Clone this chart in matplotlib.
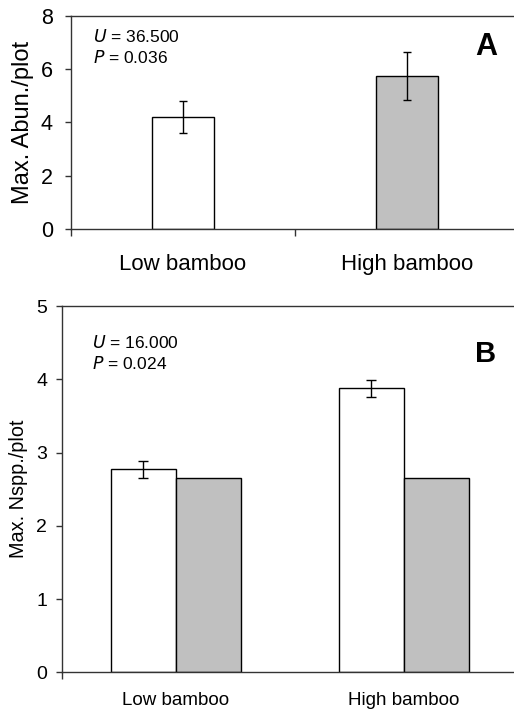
#!/usr/bin/env python3
"""Max. abundance and species richness per plot, low vs high bamboo."""

import matplotlib.pyplot as plt
import numpy as np

plt.rcParams["font.family"] = ["Liberation Sans", "DejaVu Sans"]

GREY = "#c0c0c0"
SPINE = "#333333"

categories = ["Low bamboo", "High bamboo"]

# panel A: one bar per category
abun_mean = [4.20, 5.74]
abun_err = [0.60, 0.91]
abun_colors = ["white", GREY]

# panel B: white bars with error, grey reference bars
nspp_mean = [2.77, 3.88]
nspp_err = [0.115, 0.115]
nspp_ref = [2.655, 2.655]

stats_a = ("36.500", "0.036")
stats_b = ("16.000", "0.024")


def style_axes(ax, ymax, step, tick_size, pad):
    ax.set_xlim(-0.5, 1.5)
    ax.set_ylim(0, ymax)
    ax.set_yticks(np.arange(0, ymax + 0.01, step))
    ax.spines["right"].set_visible(False)
    for side in ("left", "bottom", "top"):
        ax.spines[side].set_color(SPINE)
        ax.spines[side].set_linewidth(1.0)
    ax.tick_params(axis="y", direction="out", length=4.5, width=1.0,
                   color=SPINE, labelsize=tick_size, pad=pad)
    ax.set_xticks(range(len(categories)))
    ax.set_xticklabels(categories)


fig = plt.figure(figsize=(5.14, 7.11), dpi=100)

# ---- panel A ----
ax = fig.add_axes([0.138, 0.678, 0.872, 0.2996])
x = np.arange(len(categories))
ax.bar(x, abun_mean, width=0.28, color=abun_colors, edgecolor="black",
       linewidth=1.0, zorder=2)
ax.errorbar(x, abun_mean, yerr=abun_err, fmt="none", ecolor="black",
            elinewidth=1.0, capsize=3, capthick=1.0, zorder=3)
style_axes(ax, 8, 2, 15.5, 8.5)
ax.set_xticks([-0.5, 0.5, 1.5], minor=True)
ax.tick_params(axis="x", which="major", length=0, labelsize=16, pad=18)
ax.tick_params(axis="x", which="minor", direction="out", length=5,
               width=1.0, color=SPINE)
ax.set_ylabel("Max. Abun./plot", fontsize=17, labelpad=5)
ax.text(0.05, 0.905, f"$\\it{{U}}$ = {stats_a[0]}", transform=ax.transAxes,
        fontsize=12.5, va="center")
ax.text(0.05, 0.805, f"$\\it{{P}}$ = {stats_a[1]}", transform=ax.transAxes,
        fontsize=12.5, va="center")
ax.text(0.952, 0.855, "A", transform=ax.transAxes, fontsize=22,
        weight="bold", ha="right", va="center")

# ---- panel B ----
ax = fig.add_axes([0.12, 0.0544, 0.888, 0.515])
w = 0.285
ax.bar(x - w / 2, nspp_mean, width=w, color="white", edgecolor="black",
       linewidth=1.0, zorder=2)
ax.bar(x + w / 2, nspp_ref, width=w, color=GREY, edgecolor="black",
       linewidth=1.0, zorder=2)
ax.errorbar(x - w / 2, nspp_mean, yerr=nspp_err, fmt="none", ecolor="black",
            elinewidth=1.0, capsize=3.6, capthick=1.0, zorder=3)
style_axes(ax, 5, 1, 14, 6)
ax.set_xticks([-0.5], minor=True)
ax.tick_params(axis="x", which="major", length=0, labelsize=13.5, pad=14)
ax.tick_params(axis="x", which="minor", direction="out", length=5,
               width=1.0, color=SPINE)
ax.set_ylabel("Max. Nspp./plot", fontsize=14.3, labelpad=6)
ax.text(0.067, 0.9, f"$\\it{{U}}$ = {stats_b[0]}", transform=ax.transAxes,
        fontsize=12.5, va="center")
ax.text(0.067, 0.843, f"$\\it{{P}}$ = {stats_b[1]}", transform=ax.transAxes,
        fontsize=12.5, va="center")
ax.text(0.952, 0.87, "B", transform=ax.transAxes, fontsize=21,
        weight="bold", ha="right", va="center")

fig.savefig("out.png", dpi=100)
